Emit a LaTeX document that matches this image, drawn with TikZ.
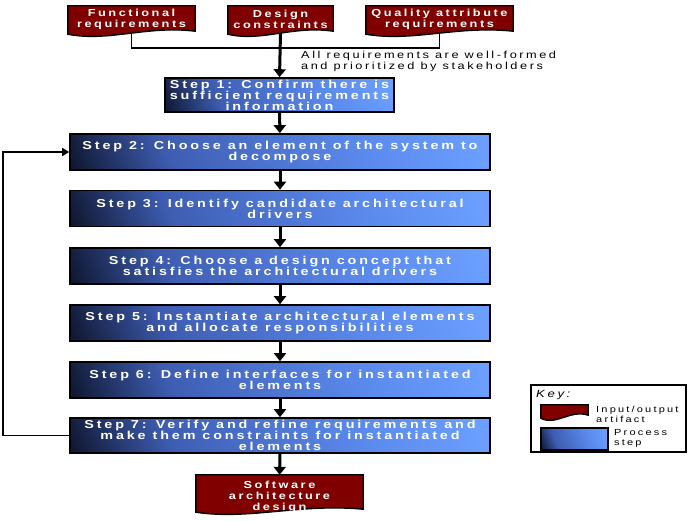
\documentclass[tikz,border=0pt]{standalone}
\usepackage{fontspec}
\setmainfont{Liberation Sans}
\newfontfamily\widefont[FakeStretch=1.25,LetterSpace=25]{Liberation Sans}
\usetikzlibrary{positioning,calc,arrows.meta,backgrounds}

\definecolor{docred}{HTML}{800000}
\definecolor{stepdark}{HTML}{060A18}
\definecolor{stepmid}{HTML}{3E5DB2}
\definecolor{stepsoft}{HTML}{5A89EC}
\definecolor{steplight}{HTML}{6A9EFF}

\pgfdeclarehorizontalshading{stepshade}{100bp}{color(0bp)=(stepdark);
    color(15bp)=(stepdark); color(33bp)=(stepmid); color(62bp)=(stepsoft);
    color(80bp)=(steplight); color(100bp)=(steplight)}

\tikzset{
    stepfill/.style={shade, shading=stepshade, shading angle=22},
    stepbox/.style={stepfill, draw=black, line width=1.6pt,
        minimum width=420pt, minimum height=36pt,
        align=center, text=white, inner sep=0pt,
        font=\widefont\bfseries\fontsize{11.5}{11}\selectfont},
    docbox/.style={align=center, text=white, inner sep=0pt,
        font=\widefont\bfseries\fontsize{10.2}{11}\selectfont},
    steparrow/.style={line width=3pt, -{Triangle[length=8pt,width=12pt]}},
    joinline/.style={line width=1.5pt},
    keytext/.style={align=left, anchor=west, inner sep=0pt,
        font=\widefont\fontsize{8.8}{10}\selectfont},
}

% #1 node, #2 how far the wave sits above the node's south side
\newcommand{\wavepath}[2]{(#1.north west) -- (#1.north east)
    -- ($(#1.south east)+(0,-2-#2)$)
    .. controls ($(#1.south west)!0.62!(#1.south east)+(0,-8-#2)$)
    and ($(#1.south west)!0.32!(#1.south east)+(0,9-#2)$)
    .. ($(#1.south west)+(0,1-#2)$) -- cycle}
\newcommand{\docshape}[2][0]{%
    \fill[black] [shift={(1.8,1.8)}] \wavepath{#2}{#1};
    \filldraw[fill=docred, draw=black, line width=1.4pt] \wavepath{#2}{#1};}

\begin{document}
\begin{tikzpicture}[x=1pt,y=-1pt]
    \useasboundingbox (0,0) rectangle (689,521);

    % inputs
    \node[docbox, minimum width=127pt, minimum height=27pt] (fr) at (131.5,19.5)
        {Functional\\requirements};
    \node[docbox, minimum width=105pt, minimum height=27pt] (dc) at (280.5,19.5)
        {Design\\constraints};
    \node[docbox, minimum width=147pt, minimum height=27pt] (qa) at (439.5,19.5)
        {Quality attribute\\requirements};
    \coordinate (join) at (280.5,48);

    \node[keytext, font=\widefont\fontsize{10.2}{11}\selectfont] (note) at (301,61)
        {All requirements are well-formed\\and prioritized by stakeholders};

    % steps
    \node[stepbox, minimum width=229pt, minimum height=34pt] (s1) at (279.5,95)
        {Step 1: Confirm there is\\sufficient requirements\\information};
    \node[stepbox] (s2) at (280,152)
        {Step 2: Choose an element of the system to\\decompose};
    \node[stepbox] (s3) at (280,208.5)
        {Step 3: Identify candidate architectural\\drivers};
    \node[stepbox] (s4) at (280,266)
        {Step 4: Choose a design concept that\\satisfies the architectural drivers};
    \node[stepbox] (s5) at (280,323)
        {Step 5: Instantiate architectural elements\\and allocate responsibilities};
    \node[stepbox] (s6) at (280,380)
        {Step 6: Define interfaces for instantiated\\elements};
    \node[stepbox, minimum height=35pt] (s7) at (280,435.5)
        {Step 7: Verify and refine requirements and\\make them constraints for instantiated\\elements};

    % output
    \node[docbox, minimum width=167pt, minimum height=44pt] (out) at (279.5,497)
        {Software\\architecture\\design};

    % key
    \node[draw=black, line width=1.4pt, minimum width=155pt, minimum height=67pt]
        (key) at (608.5,418.5) {};
    \node[keytext, font=\widefont\itshape\fontsize{10.5}{11}\selectfont] (keyname)
        at (536,395) {Key:};
    \node[minimum width=47pt, minimum height=12pt, inner sep=0pt] (keydoc)
        at (564.5,411) {};
    \node[keytext] (keydoctext) at (596,414) {Input/output\\artifact};
    \node[stepfill, draw=black, line width=1.4pt,
        minimum width=67pt, minimum height=22pt, inner sep=0pt] (keystep)
        at (574.5,439) {};
    \node[keytext] (keysteptext) at (614,438) {Process\\step};

    \begin{scope}[on background layer]
        \docshape{fr}
        \docshape{dc}
        \docshape{qa}
        \docshape[8]{out}
        \docshape{keydoc}
    \end{scope}

    \draw[joinline] (fr.south) |- (join);
    \draw[joinline] (qa.south) |- (join);
    \draw[steparrow] (dc.south) -- (s1.north);
    \draw[steparrow] (s1) -- (s2);
    \draw[steparrow] (s2) -- (s3);
    \draw[steparrow] (s3) -- (s4);
    \draw[steparrow] (s4) -- (s5);
    \draw[steparrow] (s5) -- (s6);
    \draw[steparrow] (s6) -- (s7);
    \draw[steparrow] (s7) -- (out);

    \coordinate (back) at (3,435.5);
    \draw[joinline, -{Triangle[length=7pt,width=8pt]}]
        (s7.west) -- (back) |- (s2.west);
\end{tikzpicture}
\end{document}
